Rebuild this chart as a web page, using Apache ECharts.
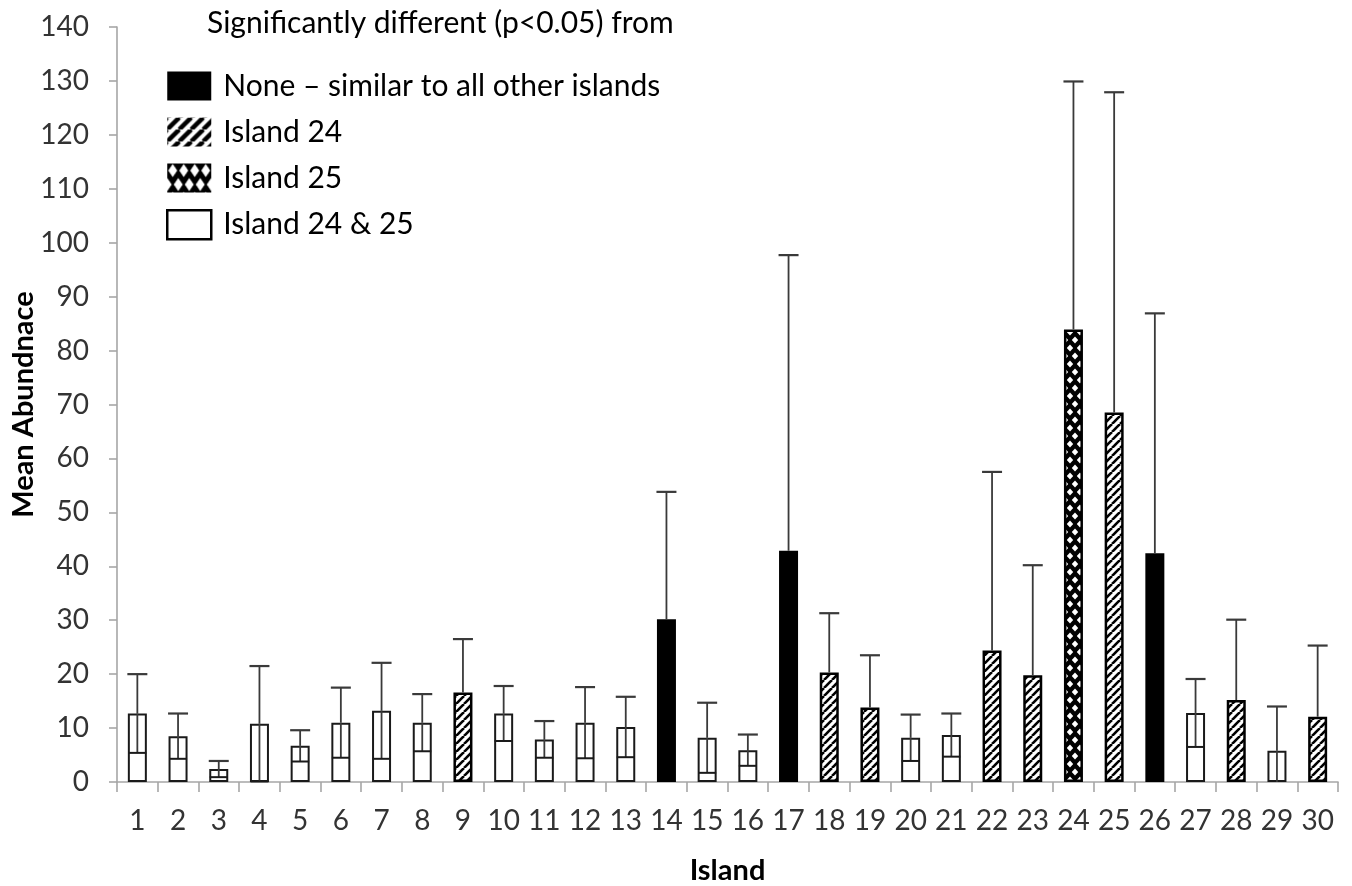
<!DOCTYPE html>
<html>
<head>
<meta charset="utf-8">
<script src="https://cdn.jsdelivr.net/npm/echarts@6/dist/echarts.min.js"></script>
<style>
  html, body { margin: 0; padding: 0; background: #fff; }
  #chart { width: 1352px; height: 886px; }
</style>
</head>
<body>
<div id="chart"></div>
<script>
// Island numbers along the x axis
const islands = ['1','2','3','4','5','6','7','8','9','10','11','12','13','14','15',
  '16','17','18','19','20','21','22','23','24','25','26','27','28','29','30'];

// Mean abundance per island
const meanAbundance = [12.7, 8.5, 2.4, 10.8, 6.7, 11.0, 13.2, 11.0, 16.6, 12.7,
  7.9, 11.0, 10.2, 30.2, 8.2, 5.9, 42.9, 20.3, 13.8, 8.2,
  8.7, 24.4, 19.8, 83.9, 68.5, 42.4, 12.8, 15.2, 5.8, 12.1];

// Standard deviation per island (error bars)
const stdDev = [7.3, 4.2, 1.5, 10.7, 2.9, 6.5, 8.9, 5.3, 9.9, 5.1,
  3.4, 6.6, 5.6, 23.6, 6.5, 2.9, 54.8, 11.0, 9.7, 4.3,
  4.0, 33.1, 20.4, 46.0, 59.4, 44.5, 6.3, 14.9, 8.2, 13.2];

// Which islands each one differs from significantly
const differsFrom = ['both','both','both','both','both','both','both','both','i24','both',
  'both','both','both','none','both','both','none','i24','i24','both',
  'both','i24','i24','i25','i24','none','both','i24','both','i24'];

const groupKeys = ['none', 'i24', 'i25', 'both'];
const groupLabels = ['None \u2013 similar to all other islands', 'Island 24', 'Island 25', 'Island 24 & 25'];
const legendHeading = 'Significantly different (p<0.05) from';

const yTicks = { min: 0, max: 140, step: 10 };

// ---- fill patterns ----
function hatch(period, width) {
  const c = document.createElement('canvas');
  c.width = period; c.height = period;
  const g = c.getContext('2d');
  g.fillStyle = '#fff'; g.fillRect(0, 0, period, period);
  g.strokeStyle = '#000'; g.lineWidth = width;
  for (let k = -1; k <= 1; k++) {
    g.beginPath();
    g.moveTo(k * period, period);
    g.lineTo(k * period + period, 0);
    g.stroke();
  }
  return { image: c, repeat: 'repeat' };
}
// white diamonds on black, offset every other row
function diamonds(w, h, rx, ry) {
  const c = document.createElement('canvas');
  c.width = w; c.height = h * 2;
  const g = c.getContext('2d');
  g.fillStyle = '#000'; g.fillRect(0, 0, w, h * 2);
  g.fillStyle = '#fff';
  const centres = [[w / 2, h / 2], [0, h * 1.5], [w, h * 1.5]];
  centres.forEach(([cx, cy]) => {
    g.beginPath();
    g.moveTo(cx, cy - ry); g.lineTo(cx + rx, cy); g.lineTo(cx, cy + ry); g.lineTo(cx - rx, cy);
    g.closePath(); g.fill();
  });
  return { image: c, repeat: 'repeat' };
}

const barStyles = {
  none: { color: '#000', borderColor: '#000', borderWidth: 0 },
  i24: { color: hatch(8, 2.6), borderColor: '#000', borderWidth: 2.5 },
  i25: { color: diamonds(10, 8, 3.2, 3.4), borderColor: '#000', borderWidth: 2.5 },
  both: { color: '#fff', borderColor: '#1a1a1a', borderWidth: 2 }
};
const legendStyles = {
  none: { color: '#000', borderColor: '#000', borderWidth: 0 },
  i24: { color: hatch(12, 4.5), borderColor: '#000', borderWidth: 0 },
  i25: { color: diamonds(11, 14, 4.5, 6.5), borderColor: '#000', borderWidth: 0 },
  both: { color: '#fff', borderColor: '#000', borderWidth: 2.5 }
};

const barSeries = groupKeys.map((key, gi) => ({
  name: groupLabels[gi],
  type: 'bar',
  stack: 'islands',
  barWidth: 19,
  itemStyle: barStyles[key],
  emphasis: { disabled: true },
  data: meanAbundance.map((v, i) => differsFrom[i] === key ? v : '-'),
  z: 2
}));

const errorData = meanAbundance.map((v, i) => [i, v, stdDev[i], differsFrom[i] === 'both' ? 1 : 0]);

const errorSeries = {
  type: 'custom',
  name: 'sd',
  z: 5,
  silent: true,
  data: errorData,
  encode: { x: 0, y: 1 },
  renderItem: function (params, api) {
    const i = api.value(0), m = api.value(1), sd = api.value(2), open = api.value(3);
    const top = api.coord([i, m + sd]);
    const mid = api.coord([i, m]);
    const capHalf = 10;
    const style = { stroke: '#3a3a3a', lineWidth: 1.8 };
    const children = [
      { type: 'line', shape: { x1: mid[0], y1: mid[1], x2: top[0], y2: top[1] }, style },
      { type: 'line', shape: { x1: top[0] - capHalf, y1: top[1], x2: top[0] + capHalf, y2: top[1] }, style: { stroke: '#3a3a3a', lineWidth: 2.2 } }
    ];
    if (open) {
      const lowVal = Math.max(m - sd, 0);
      const low = api.coord([i, lowVal]);
      children.push({ type: 'line', shape: { x1: mid[0], y1: mid[1], x2: low[0], y2: low[1] }, style });
      if (m - sd > 0) {
        children.push({ type: 'line', shape: { x1: low[0] - 9, y1: low[1], x2: low[0] + 9, y2: low[1] }, style: { stroke: '#1a1a1a', lineWidth: 2 } });
      }
    }
    return { type: 'group', children };
  }
};

const chart = echarts.init(document.getElementById('chart'), null, { renderer: 'canvas' });
const font = 'Lato, "Open Sans", sans-serif';

chart.setOption({
  animation: false,
  backgroundColor: '#fff',
  textStyle: { fontFamily: font },
  title: {
    text: legendHeading,
    left: 202,
    top: 3,
    textStyle: { fontFamily: font, fontSize: 30, fontWeight: 'normal', color: '#000' }
  },
  legend: {
    orient: 'vertical',
    left: 161,
    top: 66,
    itemWidth: 44,
    itemHeight: 29,
    itemGap: 16,
    icon: 'rect',
    selectedMode: false,
    textStyle: { fontFamily: font, fontSize: 30, lineHeight: 30, color: '#000', padding: [0, 0, 0, 7] },
    data: groupKeys.map((key, gi) => ({ name: groupLabels[gi], itemStyle: legendStyles[key] }))
  },
  grid: { left: 117, right: 14, top: 27, bottom: 104, containLabel: false, outerBoundsMode: 'none' },
  xAxis: {
    type: 'category',
    data: islands,
    name: 'Island',
    nameLocation: 'middle',
    nameGap: 74,
    nameMoveOverlap: false,
    nameTextStyle: { fontFamily: font, fontSize: 29, fontWeight: 'bold', color: '#000' },
    axisLine: { lineStyle: { color: '#a6a6a6', width: 1.6 } },
    axisTick: { show: true, length: 10, lineStyle: { color: '#a6a6a6', width: 1.6 } },
    axisLabel: { fontFamily: font, fontSize: 28, color: '#333', margin: 25, interval: 0 },
    splitLine: { show: false }
  },
  yAxis: {
    type: 'value',
    min: yTicks.min,
    max: yTicks.max,
    interval: yTicks.step,
    name: 'Mean Abundnace',
    nameLocation: 'middle',
    nameGap: 79,
    nameMoveOverlap: false,
    nameTextStyle: { fontFamily: font, fontSize: 29, fontWeight: 'bold', color: '#000' },
    axisLine: { show: true, lineStyle: { color: '#a6a6a6', width: 1.6 } },
    axisTick: { show: true, length: 8, lineStyle: { color: '#a6a6a6', width: 1.6 } },
    axisLabel: { fontFamily: font, fontSize: 28, color: '#333', margin: 28 },
    splitLine: { show: false }
  },
  series: barSeries.concat([errorSeries])
});
</script>
</body>
</html>
